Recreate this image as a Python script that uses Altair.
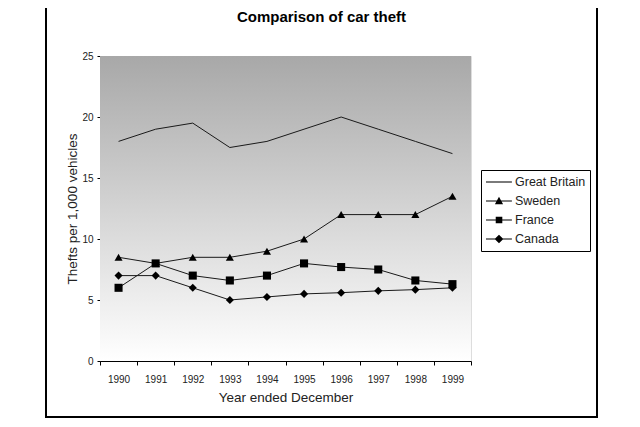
import altair as alt
import pandas as pd

years = [1990, 1991, 1992, 1993, 1994, 1995, 1996, 1997, 1998, 1999]
series_names = ["Great Britain", "Sweden", "France", "Canada"]
great_britain = [18, 19, 19.5, 17.5, 18, 19, 20, 19, 18, 17]
sweden = [8.5, 8, 8.5, 8.5, 9, 10, 12, 12, 12, 13.5]
france = [6, 8, 7, 6.6, 7, 8, 7.7, 7.5, 6.6, 6.3]
canada = [7, 7, 6, 5, 5.25, 5.5, 5.6, 5.75, 5.85, 6]
y_ticks = [0, 5, 10, 15, 20, 25]

rows = []
for name, vals in zip(series_names, [great_britain, sweden, france, canada]):
    for yr, v in zip(years, vals):
        rows.append({"year": yr, "value": v, "series": name, "legend_series": name})
df = pd.DataFrame(rows)

FONT = "Liberation Sans"
W, H = 371, 305

# legend symbols: short line (thin filled bar) with the marker in its middle
# (symbol size 196 -> 7px per unit)
BAR = "M-1,-0.075H2.7V0.075H-1Z"
legend_paths = [
    BAR,
    BAR + "M0.857,-0.62L1.44,0.45L0.27,0.45Z",
    BAR + "M0.39,-0.47H1.33V0.47H0.39Z",
    BAR + "M0.857,-0.62L1.48,0L0.857,0.62L0.23,0Z",
]

x_enc = alt.X(
    "year:O",
    bandPosition=0.5,
    scale=alt.Scale(type="band", paddingInner=0, paddingOuter=0),
    axis=alt.Axis(
        title="Year ended December",
        labelAngle=0,
        tickBand="extent",
        domainColor="black",
        tickColor="black",
        tickSize=4,
        labelPadding=9,
        labelFontSize=10,
        labelFont=FONT,
        labelColor="#222",
        titleFont=FONT,
        titleFontSize=13.5,
        titleFontWeight="normal",
        titleColor="#222",
        titlePadding=6,
        grid=False,
    ),
)
y_enc = alt.Y(
    "value:Q",
    scale=alt.Scale(domain=[0, 25]),
    axis=alt.Axis(
        title="Thefts per 1,000 vehicles",
        values=y_ticks,
        domainColor="black",
        tickColor="black",
        tickSize=3,
        labelPadding=4,
        labelFontSize=10,
        labelFont=FONT,
        labelColor="#222",
        titleFont=FONT,
        titleFontSize=13.5,
        titleFontWeight="normal",
        titleColor="#222",
        titleX=-28,
        titleY=H / 2,
        titleBaseline="middle",
        grid=False,
    ),
)

bg = alt.Chart(df).mark_rect(
    color=alt.Gradient(
        gradient="linear",
        stops=[
            alt.GradientStop(color="#a8a8a8", offset=0),
            alt.GradientStop(color="#ffffff", offset=1),
        ],
        x1=0, x2=0, y1=0, y2=1,
    )
).encode(x=alt.value(0), x2=alt.value(W), y=alt.value(0), y2=alt.value(H))

frame = alt.Chart(df).mark_rect(
    fill=None, filled=False, stroke="black", strokeWidth=2, clip=False
).encode(x=alt.value(-54), x2=alt.value(497), y=alt.value(-60), y2=alt.value(361))

lines = alt.Chart(df).mark_line(color="#1a1a1a", strokeWidth=1).encode(
    x=x_enc, y=y_enc, detail="series:N"
)

markers = alt.Chart(df).transform_filter(
    alt.datum.series != "Great Britain"
).mark_point(filled=True, color="black", opacity=1, size=65).encode(
    x=x_enc,
    y=y_enc,
    shape=alt.Shape(
        "series:N",
        scale=alt.Scale(
            domain=["Sweden", "France", "Canada"],
            range=["triangle-up", "square", "diamond"],
        ),
        legend=None,
    ),
)

legend_layer = alt.Chart(df).mark_point(
    filled=True, fill="black", opacity=0
).encode(
    x=x_enc,
    y=y_enc,
    shape=alt.Shape(
        "legend_series:N",
        scale=alt.Scale(domain=series_names, range=legend_paths),
        legend=alt.Legend(
            title=None,
            orient="none",
            legendX=381,
            legendY=114,
            strokeColor="black",
            padding=4,
            symbolSize=196,
            symbolFillColor="black",
            symbolOpacity=1,
            labelFont=FONT,
            labelFontSize=12.5,
            labelColor="#222",
            labelOffset=14,
            rowPadding=4,
        ),
    ),
)

chart = alt.layer(bg, frame, lines, markers, legend_layer).resolve_scale(
    shape="independent"
).properties(
    width=W,
    height=H,
    autosize=alt.AutoSizeParams(type="none"),
    padding={"left": 92, "top": 48, "right": 161, "bottom": 58},
    title=alt.Title(
        "Comparison of car theft",
        font=FONT,
        fontSize=15,
        fontWeight="bold",
        color="black",
        anchor="middle",
        frame="group",
        dx=36,
        dy=30,
        offset=0,
    ),
).configure_view(stroke=None).configure(background="white")

chart.save("out.html", embed_options={"renderer": "svg", "actions": False})
